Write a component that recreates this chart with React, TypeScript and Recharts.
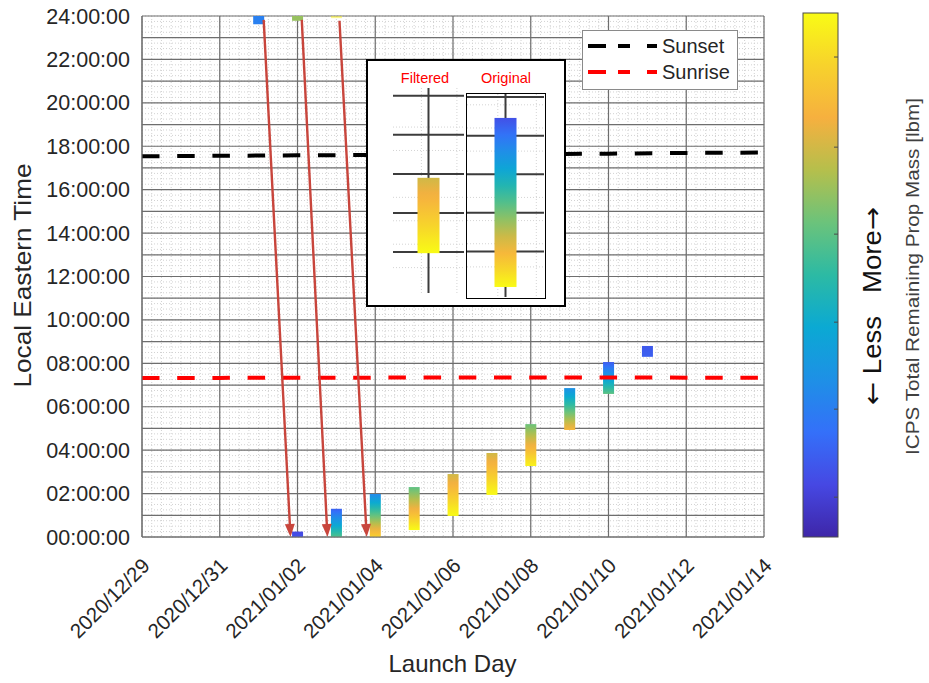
import React from "react";
import { ComposedChart, Bar, Line, XAxis, YAxis, CartesianGrid, ReferenceLine } from "recharts";

const FONT = "'Liberation Sans', Arial, Helvetica, sans-serif";
const TEXT = "#262626";
const GRID = "#6e6e6e";

// x axis: days counted from 2020/12/29
const xTicks = [0, 2, 4, 6, 8, 10, 12, 14, 16];
const xTickLabels = [
  "2020/12/29", "2020/12/31", "2021/01/02", "2021/01/04", "2021/01/06",
  "2021/01/08", "2021/01/10", "2021/01/12", "2021/01/14",
];

// y axis: hours of the day
const yGrid = Array.from({ length: 25 }, (_, i) => i);
const yMajor = [0, 2, 4, 6, 8, 10, 12, 14, 16, 18, 20, 22, 24];
const yTickLabels = [
  "00:00:00", "02:00:00", "04:00:00", "06:00:00", "08:00:00", "10:00:00", "12:00:00",
  "14:00:00", "16:00:00", "18:00:00", "20:00:00", "22:00:00", "24:00:00",
];
const minorHours = Array.from({ length: 97 }, (_, i) => i / 4);
const minorDays = Array.from({ length: 65 }, (_, i) => i / 4);

// launch windows after midnight (mass level 0 = less, 1 = more)
const winDays = [4, 5, 6, 7, 8, 9, 10, 11, 12, 13];
const winStart = [0.0, 0.0, 0.0, 0.32, 0.97, 1.94, 3.27, 4.93, 6.59, 8.3];
const winEnd = [0.25, 1.3, 1.98, 2.3, 2.9, 3.87, 5.2, 6.86, 8.06, 8.8];
const winMassTop = [0.1, 0.16, 0.28, 0.58, 0.74, 0.74, 0.6, 0.3, 0.15, 0.14];
const winMassBottom = [0.12, 0.56, 0.9, 1.0, 1.0, 1.0, 0.98, 0.82, 0.58, 0.16];

// windows opening just before midnight
const lateDays = [3, 4, 5];
const lateStart = [23.62, 23.78, 23.9];
const lateEnd = [24, 24, 24];
const lateMass = [0.25, 0.66, 0.97];
const lateOpacity = [1, 1, 0.5];

// sunset / sunrise
const sunDays = [0, 2, 4, 6, 8, 10, 12, 14, 16];
const sunsetHours = [17.54, 17.56, 17.58, 17.6, 17.62, 17.64, 17.66, 17.69, 17.71];
const sunriseHours = [7.32, 7.33, 7.34, 7.34, 7.35, 7.35, 7.35, 7.34, 7.34];

// red arrows: late window -> next morning
const redFromDay = [3.13, 4.11, 5.08];
const redFromHour = [23.82, 23.82, 23.78];
const redToDay = [3.82, 4.77, 5.78];
const redToHour = [0, 0, 0];

// black arrows: 01/06 window -> inset
const blackFromDay = [7.68, 8.22];
const blackFromHour = [3.36, 3.32];
const blackToDay = [6.29, 8.22];
const blackToHour = [11.24, 11.01];

// inset panels
const insetLabels = ["Filtered", "Original"];
const insetStart = [0.97, 0.08];
const insetEnd = [2.9, 4.46];
const insetMassTop = [0.74, 0.12];
const insetMassBottom = [1.0, 1.0];

// colour bar
const colorbarTicks = [0.076, 0.244, 0.41, 0.578, 0.744, 0.916];
const PARULA: [number, string][] = [
  [0.0, "#3e26a8"], [0.1, "#4648e3"], [0.2, "#3470f9"], [0.3, "#1e90e6"],
  [0.4, "#0ba9d3"], [0.5, "#2cbaa4"], [0.6, "#6bc37b"], [0.7, "#b5bf4c"],
  [0.8, "#f6b03f"], [0.9, "#f7d22c"], [1.0, "#f9fb15"],
];

function parula(t: number): string {
  const v = Math.max(0, Math.min(1, t));
  for (let i = 1; i < PARULA.length; i++) {
    const [p1, c1] = PARULA[i];
    const [p0, c0] = PARULA[i - 1];
    if (v <= p1) {
      const f = (v - p0) / (p1 - p0);
      const a = [1, 3, 5].map((k) => parseInt(c0.slice(k, k + 2), 16));
      const b = [1, 3, 5].map((k) => parseInt(c1.slice(k, k + 2), 16));
      return `rgb(${a.map((x, j) => Math.round(x + (b[j] - x) * f)).join(",")})`;
    }
  }
  return PARULA[PARULA.length - 1][1];
}

const rows = Array.from(new Set([...lateDays, ...winDays]))
  .sort((a, b) => a - b)
  .map((day) => {
    const i = winDays.indexOf(day);
    const j = lateDays.indexOf(day);
    return {
      day,
      win: i >= 0 ? [winStart[i], winEnd[i]] : null,
      winTop: i >= 0 ? winMassTop[i] : null,
      winBottom: i >= 0 ? winMassBottom[i] : null,
      late: j >= 0 ? [lateStart[j], lateEnd[j]] : null,
      lateTop: j >= 0 ? lateMass[j] : null,
      lateBottom: j >= 0 ? lateMass[j] : null,
      lateOpacity: j >= 0 ? lateOpacity[j] : 1,
    };
  });

const sunsetData = sunDays.map((day, i) => ({ day, h: sunsetHours[i] }));
const sunriseData = sunDays.map((day, i) => ({ day, h: sunriseHours[i] }));

const windowShape = (prefix: string, topKey: string, bottomKey: string, opKey?: string) => (p: any) => {
  const top = p.payload?.[topKey];
  const bottom = p.payload?.[bottomKey];
  if (top == null || !p.height) return <g />;
  const y = Math.min(p.y, p.y + p.height);
  const h = Math.max(Math.abs(p.height), 1.5);
  const id = `g-${prefix}-${p.index}`;
  const stops = [];
  for (let k = 0; k <= 10; k++) {
    const t = k / 10;
    stops.push(<stop key={k} offset={t} stopColor={parula(top + (bottom - top) * t)} />);
  }
  return (
    <g opacity={opKey ? p.payload[opKey] : 1}>
      <defs>
        <linearGradient id={id} x1="0" y1="0" x2="0" y2="1">{stops}</linearGradient>
      </defs>
      <rect x={p.x} y={y} width={p.width} height={h} fill={`url(#${id})`} />
    </g>
  );
};

const arrowShape = (color: string, len: number, half: number, width: number) => (p: any) => {
  const { x1, y1, x2, y2 } = p;
  const dx = x2 - x1;
  const dy = y2 - y1;
  const d = Math.hypot(dx, dy) || 1;
  const ux = dx / d;
  const uy = dy / d;
  const bx = x2 - ux * len;
  const by = y2 - uy * len;
  const pts = `${x2},${y2} ${bx - uy * half},${by + ux * half} ${bx + uy * half},${by - ux * half}`;
  return (
    <g>
      <line x1={x1} y1={y1} x2={bx + ux * 2} y2={by + uy * 2} stroke={color} strokeWidth={width} />
      <polygon points={pts} fill={color} />
    </g>
  );
};

function XTick(props: any) {
  const { x, y, payload } = props;
  const i = xTicks.indexOf(payload.value);
  return (
    <text
      transform={`translate(${x + 9},${y + 28}) rotate(-45)`}
      textAnchor="end"
      fontSize={20.5}
      fill={TEXT}
      fontFamily={FONT}
    >
      {i >= 0 ? xTickLabels[i] : ""}
    </text>
  );
}

function YTick(props: any) {
  const { x, y, payload } = props;
  const i = yMajor.indexOf(payload.value);
  if (i < 0) return <g />;
  return (
    <text x={x} y={y} dy={7.5} textAnchor="end" fontSize={21.5} fill={TEXT} fontFamily={FONT}>
      {yTickLabels[i]}
    </text>
  );
}

const MARGIN = { top: 16, right: 165, bottom: 0, left: 0 };

function InsetPanel({ i, width, height, domain }: { i: number; width: number; height: number; domain: [number, number] }) {
  const data = [{ day: 8, win: [insetStart[i], insetEnd[i]], winTop: insetMassTop[i], winBottom: insetMassBottom[i] }];
  return (
    <ComposedChart width={width} height={height} data={data} margin={{ top: 0, right: 0, bottom: 0, left: 0 }}>
      <CartesianGrid
        horizontalValues={Array.from({ length: 30 }, (_, k) => k / 5)}
        verticalValues={[7.6, 7.7, 7.8, 7.9, 8.1, 8.2, 8.3, 8.4]}
        stroke="#d4d4d4"
        strokeDasharray="1 2"
      />
      <CartesianGrid horizontalValues={[0.01, 1, 2, 3, 4, 5]} verticalValues={[8]} stroke="#3c3c3c" strokeWidth={2} />
      <XAxis dataKey="day" type="number" domain={[7.5, 8.5]} hide allowDataOverflow />
      <YAxis type="number" domain={domain} hide allowDataOverflow />
      <Bar dataKey="win" barSize={22} shape={windowShape(`inset${i}`, "winTop", "winBottom")} isAnimationActive={false} />
    </ComposedChart>
  );
}

export default function App() {
  const cbStops = [...PARULA].reverse().map(([p, c]) => <stop key={p} offset={1 - p} stopColor={c} />);
  return (
    <div style={{ position: "absolute", left: 0, top: 0, width: 929, height: 683, background: "#fff", fontFamily: FONT }}>
      <div style={{ position: "absolute", left: 0, top: 0 }}>
        <ComposedChart width={929} height={683} data={rows} margin={MARGIN}>
          <CartesianGrid horizontalValues={minorHours} verticalValues={minorDays} stroke="#d2d2d2" strokeDasharray="1 2" />
          <CartesianGrid horizontalValues={yGrid} verticalValues={xTicks} stroke={GRID} strokeWidth={1.2} />
          <XAxis
            dataKey="day"
            type="number"
            domain={[0, 16]}
            ticks={xTicks}
            interval={0}
            height={146}
            tick={XTick}
            tickLine={false}
            tickSize={0}
            axisLine={{ stroke: GRID }}
            allowDataOverflow
          />
          <XAxis xAxisId="late" dataKey="day" type="number" domain={[0, 16]} hide allowDataOverflow />
          <YAxis
            type="number"
            domain={[0, 24]}
            ticks={yGrid}
            interval={0}
            width={142}
            tick={YTick}
            tickLine={false}
            tickSize={0}
            tickMargin={12}
            axisLine={{ stroke: GRID }}
            allowDataOverflow
          />
          <Line data={sunsetData} dataKey="h" name="Sunset" type="linear" stroke="#000" strokeWidth={4}
            strokeDasharray="17.5 17.7" dot={false} activeDot={false} isAnimationActive={false} />
          <Line data={sunriseData} dataKey="h" name="Sunrise" type="linear" stroke="#f00" strokeWidth={4}
            strokeDasharray="17.5 17.7" dot={false} activeDot={false} isAnimationActive={false} />
          <Bar dataKey="win" barSize={11} shape={windowShape("win", "winTop", "winBottom")} isAnimationActive={false} />
          <Bar xAxisId="late" dataKey="late" barSize={11} shape={windowShape("late", "lateTop", "lateBottom", "lateOpacity")}
            isAnimationActive={false} />
          {redFromDay.map((d, i) => (
            <ReferenceLine
              key={`r${i}`}
              segment={[{ x: d, y: redFromHour[i] }, { x: redToDay[i], y: redToHour[i] }]}
              stroke="#c8453c"
              shape={arrowShape("#c8453c", 13, 5, 2.4)}
            />
          ))}
        </ComposedChart>
      </div>

      {/* inset */}
      <div style={{ position: "absolute", left: 366, top: 59, width: 200, height: 248, boxSizing: "border-box",
        border: "2px solid #000", background: "#fff" }}>
        <div style={{ position: "absolute", left: 17, top: 10, width: 80, textAlign: "center", color: "#f00",
          fontSize: 14.5, lineHeight: 1 }}>{insetLabels[0]}</div>
        <div style={{ position: "absolute", left: 98, top: 10, width: 80, textAlign: "center", color: "#f00",
          fontSize: 14.5, lineHeight: 1 }}>{insetLabels[1]}</div>
        <div style={{ position: "absolute", left: 25, top: 27 }}>
          <InsetPanel i={0} width={71} height={205} domain={[-0.05, 5.2]} />
        </div>
        <div style={{ position: "absolute", left: 98, top: 32, width: 80, height: 206, boxSizing: "border-box",
          border: "1.5px solid #000" }}>
          <InsetPanel i={1} width={77} height={203} domain={[-0.18, 5.08]} />
        </div>
      </div>

      {/* black arrows drawn above the inset */}
      <div style={{ position: "absolute", left: 0, top: 0, pointerEvents: "none" }}>
        <ComposedChart width={929} height={683} data={[{ day: 0 }, { day: 16 }]} margin={MARGIN}>
          <XAxis dataKey="day" type="number" domain={[0, 16]} height={146} tick={false} tickLine={false} axisLine={false} />
          <YAxis type="number" domain={[0, 24]} width={142} tick={false} tickLine={false} axisLine={false} />
          {blackFromDay.map((d, i) => (
            <ReferenceLine
              key={`b${i}`}
              segment={[{ x: d, y: blackFromHour[i] }, { x: blackToDay[i], y: blackToHour[i] }]}
              stroke="#111"
              shape={arrowShape("#111", 13, 4.5, 1.8)}
            />
          ))}
        </ComposedChart>
      </div>

      {/* legend */}
      <div style={{ position: "absolute", left: 582, top: 30, width: 156, height: 60, boxSizing: "border-box",
        border: "1px solid #8a8a8a", background: "#fff" }}>
        <svg width={156} height={60} style={{ position: "absolute", left: -1, top: -1 }}>
          <line x1={6} x2={75} y1={16} y2={16} stroke="#000" strokeWidth={4} strokeDasharray="18 12 12 17 10 0" />
          <text x={80} y={23} fontSize={20} fill={TEXT} fontFamily={FONT}>Sunset</text>
          <line x1={6} x2={75} y1={42} y2={42} stroke="#f00" strokeWidth={4} strokeDasharray="18 12 12 17 10 0" />
          <text x={80} y={49} fontSize={20} fill={TEXT} fontFamily={FONT}>Sunrise</text>
        </svg>
      </div>

      {/* axis titles and colour bar */}
      <svg width={929} height={683} style={{ position: "absolute", left: 0, top: 0, pointerEvents: "none" }}>
        <defs>
          <linearGradient id="cbar" x1="0" y1="0" x2="0" y2="1">{cbStops}</linearGradient>
        </defs>
        <text transform="translate(31,275.5) rotate(-90)" textAnchor="middle" fontSize={24} fill={TEXT}
          fontFamily={FONT} textLength={224} lengthAdjust="spacingAndGlyphs">Local Eastern Time</text>
        <text x={452.5} y={672} textAnchor="middle" fontSize={24} fill={TEXT} fontFamily={FONT}>Launch Day</text>
        <rect x={803} y={13} width={35} height={524} fill="url(#cbar)" stroke="#4a4a4a" strokeWidth={1} />
        {colorbarTicks.map((t) => (
          <line key={t} x1={834} x2={838} y1={537 - t * 524} y2={537 - t * 524} stroke="#4a4a4a" strokeWidth={1} />
        ))}
        <text transform="translate(881,306) rotate(-90)" textAnchor="middle" fontSize={25} fill="#111"
          fontFamily={FONT} textLength={198} lengthAdjust="spacingAndGlyphs" style={{ whiteSpace: "pre" }}>
          <tspan fontFamily="'DejaVu Sans'">{"\u2190"}</tspan>
          {" Less   More"}
          <tspan fontFamily="'DejaVu Sans'">{"\u2192"}</tspan>
        </text>
        <text transform="translate(919,276.5) rotate(-90)" textAnchor="middle" fontSize={18} fill="#404040"
          fontFamily={FONT} textLength={357} lengthAdjust="spacingAndGlyphs">ICPS Total Remaining Prop Mass [lbm]</text>
      </svg>
    </div>
  );
}
